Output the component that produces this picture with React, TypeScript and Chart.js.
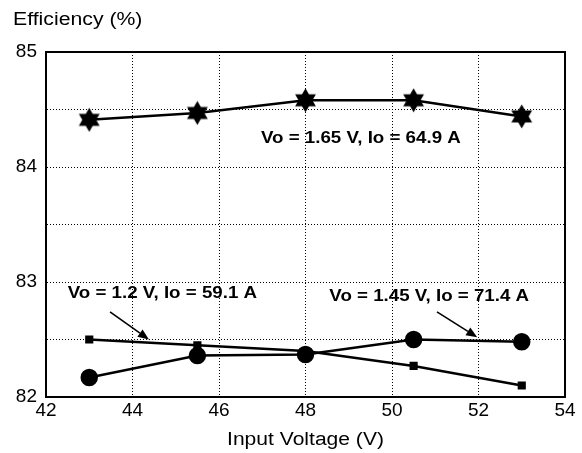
import React, { useEffect, useRef } from "react";
import { Chart, registerables } from "chart.js";

Chart.register(...registerables);

const inputVoltage = [43, 45.5, 48, 50.5, 53];
const eff165 = [84.41, 84.47, 84.58, 84.58, 84.44];
const eff12 = [82.5, 82.45, 82.4, 82.27, 82.1];
const eff145 = [82.17, 82.36, 82.37, 82.5, 82.48];

const yTitle = "Efficiency (%)";
const xTitle = "Input Voltage (V)";

const labelTexts = ["Vo = 1.65 V, Io = 64.9 A", "Vo = 1.2 V, Io = 59.1 A", "Vo = 1.45 V, Io = 71.4 A"];
const labelX = [49.28, 44.69, 50.86];
const labelY = [84.25, 82.9, 82.87];

// arrows in data units
const arrowFromX = [43.48, 51.04];
const arrowFromY = [82.74, 82.74];
const arrowToX = [44.38, 51.97];
const arrowToY = [82.5, 82.52];

const FONT = "'Liberation Sans', Arial, sans-serif";

function makeStar(size: number): HTMLCanvasElement {
  const c = document.createElement("canvas");
  c.width = size;
  c.height = size;
  const ctx = c.getContext("2d")!;
  const cx = size / 2;
  const cy = size / 2;
  const R = size / 2 - 0.5;
  const r = R * 0.58;
  ctx.beginPath();
  for (let i = 0; i < 12; i++) {
    const ang = -Math.PI / 2 + (i * Math.PI) / 6;
    const rad = i % 2 === 0 ? R : r;
    const px = cx + rad * Math.cos(ang);
    const py = cy + rad * Math.sin(ang);
    if (i === 0) ctx.moveTo(px, py);
    else ctx.lineTo(px, py);
  }
  ctx.closePath();
  ctx.fillStyle = "#000";
  ctx.fill();
  return c;
}

function stretchedText(
  ctx: CanvasRenderingContext2D,
  text: string,
  x: number,
  y: number,
  sx: number,
  align: "left" | "center"
) {
  ctx.save();
  ctx.translate(x, y);
  ctx.scale(sx, 1);
  ctx.textAlign = align;
  ctx.textBaseline = "middle";
  ctx.fillText(text, 0, 0);
  ctx.restore();
}

const annotationPlugin = {
  id: "annots",
  afterDraw(chart: any) {
    const ctx = chart.ctx as CanvasRenderingContext2D;
    const xs = chart.scales.x;
    const ys = chart.scales.y;
    ctx.save();
    ctx.fillStyle = "#000";
    ctx.strokeStyle = "#000";
    ctx.font = `bold 16px ${FONT}`;
    labelTexts.forEach((t, i) => {
      stretchedText(ctx, t, xs.getPixelForValue(labelX[i]), ys.getPixelForValue(labelY[i]), 1.17, "center");
    });
    arrowFromX.forEach((_, i) => {
      const x0 = xs.getPixelForValue(arrowFromX[i]);
      const y0 = ys.getPixelForValue(arrowFromY[i]);
      const x1 = xs.getPixelForValue(arrowToX[i]);
      const y1 = ys.getPixelForValue(arrowToY[i]);
      const ang = Math.atan2(y1 - y0, x1 - x0);
      const hl = 11;
      const hw = 4.5;
      const bx = x1 - hl * Math.cos(ang);
      const by = y1 - hl * Math.sin(ang);
      ctx.lineWidth = 1.6;
      ctx.beginPath();
      ctx.moveTo(x0, y0);
      ctx.lineTo(bx, by);
      ctx.stroke();
      ctx.beginPath();
      ctx.moveTo(x1, y1);
      ctx.lineTo(bx + hw * Math.sin(ang), by - hw * Math.cos(ang));
      ctx.lineTo(bx - hw * Math.sin(ang), by + hw * Math.cos(ang));
      ctx.closePath();
      ctx.fill();
    });
    ctx.font = `18px ${FONT}`;
    stretchedText(ctx, yTitle, 13, 20, 1.18, "left");
    stretchedText(ctx, xTitle, (chart.chartArea.left + chart.chartArea.right) / 2, 440, 1.17, "center");
    ctx.restore();
  },
};

export default function App() {
  const ref = useRef<HTMLCanvasElement>(null);
  useEffect(() => {
    if (!ref.current) return;
    const star = makeStar(25);
    const toPts = (ys: number[]) => inputVoltage.map((x, i) => ({ x, y: ys[i] }));
    const chart = new Chart(ref.current, {
      type: "line",
      data: {
        datasets: [
          {
            label: "Vo = 1.65 V",
            data: toPts(eff165),
            borderColor: "#000",
            backgroundColor: "#000",
            borderWidth: 2.5,
            pointStyle: star as any,
            pointRadius: 12,
          },
          {
            label: "Vo = 1.2 V",
            data: toPts(eff12),
            borderColor: "#000",
            backgroundColor: "#000",
            borderWidth: 2.5,
            pointStyle: "rect",
            pointRadius: 4,
          },
          {
            label: "Vo = 1.45 V",
            data: toPts(eff145),
            borderColor: "#000",
            backgroundColor: "#000",
            borderWidth: 2.5,
            pointStyle: "circle",
            pointRadius: 7.5,
          },
        ],
      },
      options: {
        responsive: false,
        animation: false,
        layout: { padding: { left: 0, right: 17, top: 52, bottom: 0 } },
        plugins: { legend: { display: false }, tooltip: { enabled: false } },
        scales: {
          x: {
            type: "linear",
            min: 42,
            max: 54,
            ticks: {
              stepSize: 2,
              color: "#000",
              font: { family: FONT, size: 19 },
              padding: 2,
            },
            grid: { color: "#000", lineWidth: 1, drawTicks: false },
            border: { color: "#000", width: 2, dash: [1, 2] } as any,
            afterFit: (s: any) => {
              s.height = 56;
            },
          },
          y: {
            type: "linear",
            min: 82,
            max: 85,
            ticks: {
              stepSize: 0.5,
              color: "#000",
              font: { family: FONT, size: 19 },
              padding: 9,
              callback: (v: any) => (Number(v) % 1 === 0 ? String(v) : ""),
            },
            grid: { color: "#000", lineWidth: 1, drawTicks: false },
            border: { color: "#000", width: 2, dash: [1, 2] } as any,
            afterFit: (s: any) => {
              s.width = 46;
            },
          },
        },
      },
      plugins: [
        annotationPlugin,
        {
          id: "frame",
          beforeDatasetsDraw(chart: any) {
            const { left, right, top, bottom } = chart.chartArea;
            const ctx = chart.ctx;
            ctx.save();
            ctx.strokeStyle = "#000";
            ctx.lineWidth = 2;
            ctx.setLineDash([]);
            ctx.strokeRect(left, top, right - left, bottom - top);
            ctx.restore();
          },
        },
      ],
    });
    return () => chart.destroy();
  }, []);
  return (
    <div style={{ position: "fixed", left: 0, top: 0, width: 582, height: 453, background: "#fff" }}>
      <canvas ref={ref} width={582} height={453} />
    </div>
  );
}
